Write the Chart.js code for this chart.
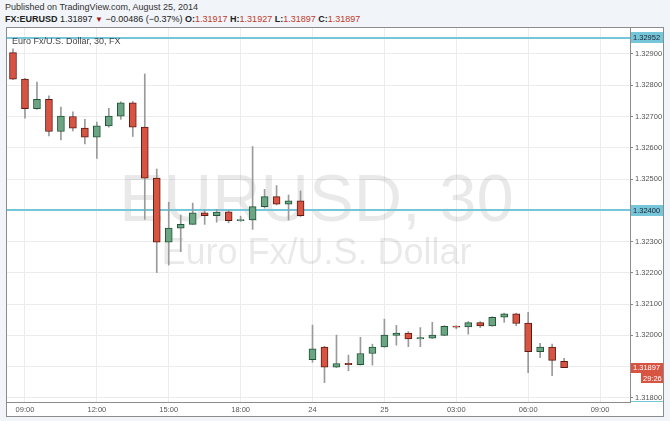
<!DOCTYPE html>
<html>
<head>
<meta charset="utf-8">
<script src="https://cdn.jsdelivr.net/npm/chart.js@4.4.1/dist/chart.umd.min.js"></script>
<style>
  html, body { margin: 0; padding: 0; width: 670px; height: 421px; overflow: hidden; background: #f1f4f8; font-family: "Liberation Sans", Arial, sans-serif; }
  #pub { position: absolute; left: 5px; top: 2px; font-size: 9px; color: #333; white-space: nowrap; }
  #quote { position: absolute; left: 5px; top: 14px; font-size: 9px; color: #222; white-space: nowrap; }
  #quote .red { color: #c0392b; }
  #quote .dn { color: #a31515; font-size: 8px; }
  #frame { position: absolute; left: 6px; top: 27px; width: 656px; height: 388px; border: 1px solid #8c8c8c; background: #fff; }
  #title { position: absolute; left: 12px; top: 36px; font-size: 9px; color: #444; white-space: nowrap; z-index: 2; }
</style>
</head>
<body>
<div id="pub">Published on TradingView.com, August 25, 2014</div>
<div id="quote"></div>
<div id="frame"><canvas id="eurChart"></canvas></div>
<div id="title">Euro Fx/U.S. Dollar, 30, FX</div>

<script>
/* ── DATA ───────────────────────────────────────── */
// 30-min slots: Fri 22 Aug, Sun 24 evening, Mon 25 (incl. empty future slots)
const barTimes = [
    '08:30', '09:00', '09:30', '10:00', '10:30', '11:00', '11:30', '12:00', '12:30', '13:00',
    '13:30', '14:00', '14:30', '15:00', '15:30', '16:00', '16:30', '17:00', '17:30', '18:00',
    '18:30', '19:00', '19:30', '20:00', '20:30',
    '21:00', '21:30', '22:00', '22:30', '23:00', '23:30',
    '00:00', '00:30', '01:00', '01:30', '02:00', '02:30', '03:00', '03:30', '04:00', '04:30',
    '05:00', '05:30', '06:00', '06:30', '07:00', '07:30', '08:00', '08:30', '09:00', '09:30', '10:00'
];

const opens = [
    1.32904, 1.32820, 1.32725, 1.32755, 1.32652, 1.32700, 1.32663, 1.32634, 1.32670, 1.32701,
    1.32744, 1.32666, 1.32503, 1.32298, 1.32343, 1.32355, 1.32392, 1.32383, 1.32395, 1.32367,
    1.32369, 1.32412, 1.32444, 1.32420, 1.32430,
    1.31922, 1.31963, 1.31898, 1.31911, 1.31906, 1.31942, 1.31963, 1.32000, 1.32007, 1.31989,
    1.31991, 1.32000, 1.32030, 1.32027, 1.32041, 1.32030, 1.32058, 1.32069, 1.32039, 1.31948,
    1.31963, 1.31917
];
const highs = [
    1.32916, 1.32822, 1.32810, 1.32766, 1.32730, 1.32715, 1.32691, 1.32682, 1.32726, 1.32747,
    1.32748, 1.32836, 1.32532, 1.32426, 1.32385, 1.32423, 1.32401, 1.32403, 1.32400, 1.32381,
    1.32604, 1.32467, 1.32479, 1.32449, 1.32462,
    1.32033, 1.31965, 1.32001, 1.31937, 1.31994, 1.31972, 1.32052, 1.32032, 1.32012, 1.32025,
    1.32042, 1.32031, 1.32031, 1.32044, 1.32044, 1.32060, 1.32071, 1.32071, 1.32074, 1.31975,
    1.31972, 1.31927
];
const lows = [
    1.32818, 1.32695, 1.32723, 1.32638, 1.32625, 1.32654, 1.32612, 1.32566, 1.32666, 1.32691,
    1.32636, 1.32371, 1.32201, 1.32225, 1.32268, 1.32355, 1.32355, 1.32362, 1.32360, 1.32364,
    1.32339, 1.32407, 1.32417, 1.32369, 1.32380,
    1.31914, 1.31849, 1.31897, 1.31887, 1.31905, 1.31905, 1.31962, 1.31969, 1.31964, 1.31964,
    1.31990, 1.31999, 1.32021, 1.32004, 1.32025, 1.32029, 1.32042, 1.32031, 1.31881, 1.31929,
    1.31871, 1.31897
];
const closes = [
    1.32819, 1.32725, 1.32755, 1.32652, 1.32701, 1.32663, 1.32634, 1.32670, 1.32701, 1.32744,
    1.32666, 1.32503, 1.32298, 1.32343, 1.32355, 1.32392, 1.32383, 1.32394, 1.32367, 1.32370,
    1.32412, 1.32444, 1.32420, 1.32430, 1.32383,
    1.31957, 1.31898, 1.31910, 1.31906, 1.31942, 1.31963, 1.32001, 1.32007, 1.31989, 1.31993,
    1.32001, 1.32029, 1.32026, 1.32041, 1.32030, 1.32058, 1.32069, 1.32038, 1.31948, 1.31963,
    1.31920, 1.31897
];

const priceTicks = [1.329, 1.328, 1.327, 1.326, 1.325, 1.324, 1.323, 1.322, 1.321, 1.320, 1.319, 1.318];
const tickIndex = [1, 7, 13, 19, 25, 31, 37, 43, 49];
const tickText = ['09:00', '12:00', '15:00', '18:00', '24', '25', '03:00', '06:00', '09:00'];
const levelLines = [1.32952, 1.32400, 1.31772];
const priceChange = '\u22120.00486 (\u22120.37%)';
const countdown = '29:26';

/* ── COLOURS ────────────────────────────────────── */
const UP = '#6ba583', UP_EDGE = '#225437';
const DN = '#d75442', DN_EDGE = '#5b1a13';
const WICK = '#9a9a9a';
const CYAN = '#74c6d8';
const FONT = '"Liberation Sans", Arial, sans-serif';

/* ── HEADER ─────────────────────────────────────── */
const n = closes.length - 1;
const f5 = v => v.toFixed(5);
document.getElementById('quote').innerHTML =
    '<b>FX:EURUSD</b> ' + f5(closes[n]) + ' <span class="dn">\u25BC</span> ' + priceChange +
    ' <b>O:</b><span class="red">' + f5(opens[n]) + '</span>' +
    ' <b>H:</b><span class="red">' + f5(highs[n]) + '</span>' +
    ' <b>L:</b><span class="red">' + f5(lows[n]) + '</span>' +
    ' <b>C:</b><span class="red">' + f5(closes[n]) + '</span>';

/* ── OVERLAY PLUGIN (watermark, levels, axis tags) ── */
function tag(ctx, x, yc, w, h, bg, fg, text) {
    ctx.fillStyle = bg;
    ctx.fillRect(x, Math.round(yc - h / 2), w, h);
    ctx.fillStyle = fg;
    ctx.font = '7.5px ' + FONT;
    ctx.textAlign = 'left';
    ctx.textBaseline = 'middle';
    ctx.fillText(text, x + 2, yc + 0.5);
}

const tvOverlay = {
    id: 'tvOverlay',
    beforeDatasetsDraw(chart) {
        const { ctx, chartArea: a, scales: { y } } = chart;
        ctx.save();
        ctx.beginPath();
        ctx.rect(a.left, a.top, a.width, a.height);
        ctx.clip();

        const cx = (a.left + a.right) / 2 - 2;
        ctx.fillStyle = 'rgba(0,0,0,0.085)';
        ctx.textAlign = 'center';
        ctx.textBaseline = 'alphabetic';
        ctx.font = '67px ' + FONT;
        ctx.fillText('EURUSD, 30', cx, a.top + 193);
        ctx.font = '36px ' + FONT;
        ctx.fillText('Euro Fx/U.S. Dollar', cx, a.top + 236);

        ctx.strokeStyle = CYAN;
        ctx.lineWidth = 2;
        levelLines.forEach(v => {
            const py = Math.round(y.getPixelForValue(v));
            ctx.beginPath();
            ctx.moveTo(a.left, py);
            ctx.lineTo(a.right, py);
            ctx.stroke();
        });
        ctx.restore();
    },
    afterDraw(chart) {
        const { ctx, chartArea: a, scales: { y } } = chart;
        const x0 = a.right + 1, w = chart.width - a.right - 1;
        ctx.save();
        ctx.beginPath();
        ctx.rect(a.right, 0, chart.width - a.right, a.bottom);
        ctx.clip();
        levelLines.forEach(v => tag(ctx, x0, y.getPixelForValue(v), w, 11, CYAN, '#223', f5(v)));
        const py = y.getPixelForValue(closes[n]);
        tag(ctx, x0, py, w, 10, DN, '#fff', f5(closes[n]));
        ctx.restore();
        tag(ctx, chart.width - 22, py + 10.5, 22, 10, DN, '#fff', countdown);
    }
};

/* ── CHART ──────────────────────────────────────── */
const wickData = lows.map((l, i) => [l, highs[i]]);
const bodyData = opens.map((o, i) => [o, closes[i]]);
const isUp = i => closes[i] >= opens[i];

new Chart(document.getElementById('eurChart'), {
    type: 'bar',
    data: {
        labels: barTimes,
        datasets: [
            {
                data: bodyData,
                grouped: false,
                order: 1,
                barThickness: 7,
                minBarLength: 1,
                borderWidth: 1,
                borderSkipped: false,
                backgroundColor: ctx => isUp(ctx.dataIndex) ? UP : DN,
                borderColor: ctx => isUp(ctx.dataIndex) ? UP_EDGE : DN_EDGE
            },
            {
                data: wickData,
                grouped: false,
                order: 2,
                barThickness: 1,
                borderWidth: 0,
                backgroundColor: WICK
            }
        ]
    },
    options: {
        responsive: true,
        maintainAspectRatio: false,
        animation: false,
        events: [],
        layout: { padding: 0 },
        plugins: { legend: { display: false }, tooltip: { enabled: false } },
        scales: {
            x: {
                type: 'category',
                offset: true,
                afterFit: s => { s.height = 14; s.paddingLeft = 0; s.paddingRight = 0; },
                grid: { offset: false, color: '#ececec', drawTicks: false },
                border: { color: '#8c8c8c' },
                ticks: {
                    autoSkip: false,
                    maxRotation: 0,
                    padding: 3,
                    color: '#555',
                    font: { size: 7.5, family: FONT },
                    callback: (v, i) => {
                        const k = tickIndex.indexOf(i);
                        return k < 0 ? null : tickText[k];
                    }
                }
            },
            y: {
                position: 'right',
                min: 1.31787,
                max: 1.32983,
                afterFit: s => { s.width = 33; s.paddingTop = 0; s.paddingBottom = 0; },
                afterBuildTicks: s => { s.ticks = priceTicks.map(v => ({ value: v })); },
                grid: { color: '#ececec', tickLength: 3, tickColor: '#888' },
                border: { color: '#8c8c8c' },
                ticks: {
                    padding: 2,
                    color: '#555',
                    font: { size: 7.5, family: FONT },
                    callback: v => v.toFixed(5)
                }
            }
        }
    },
    plugins: [tvOverlay]
});
</script>
</body>
</html>
